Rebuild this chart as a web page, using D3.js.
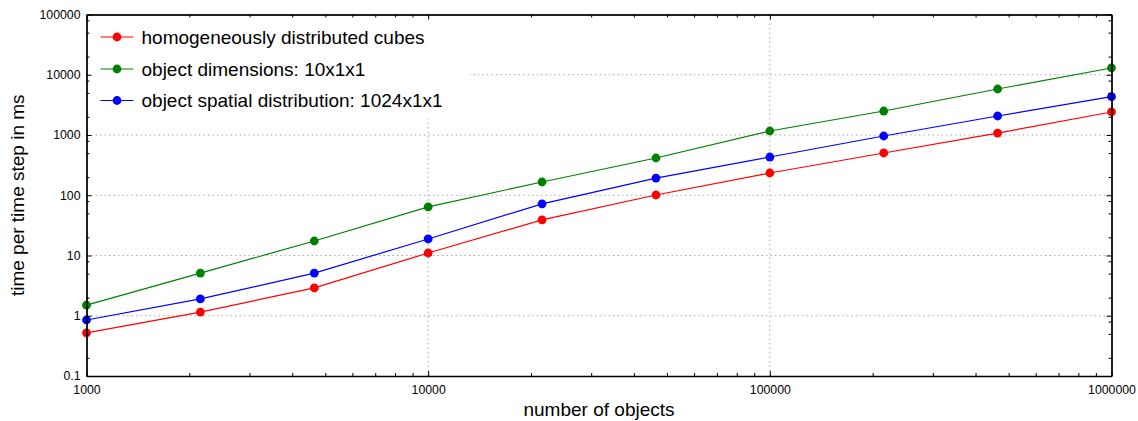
<!DOCTYPE html>
<html>
<head>
<meta charset="utf-8">
<script src="https://cdn.jsdelivr.net/npm/d3@7"></script>
<style>
  body { margin: 0; background: #fff; }
  svg { font-family: "Liberation Sans", Arial, sans-serif; }
  .axis path, .axis line { stroke: #000; }
  .axis text { font-size: 12.3px; fill: #000; }
  .grid line { stroke: #aaa; stroke-dasharray: 1.5,3; }
</style>
</head>
<body>
<script>
/*data*/
var objectCounts = [1000, 2154, 4642, 10000, 21544, 46416, 100000, 215443, 464159, 1000000];
var seriesNames = ["homogeneously distributed cubes", "object dimensions: 10x1x1", "object spatial distribution: 1024x1x1"];
var seriesColors = ["#ff0000", "#008000", "#0000ff"];
var homogeneousTimes = [0.52, 1.15, 2.9, 11, 39, 101, 234, 503, 1076, 2410];
var dimensionTimes = [1.5, 5.1, 17.4, 64, 166, 415, 1165, 2500, 5800, 12950];
var spatialTimes = [0.85, 1.9, 5.1, 18.8, 72, 193, 431, 962, 2066, 4325];
var xTickValues = [1000, 10000, 100000, 1000000];
var yTickValues = [0.1, 1, 10, 100, 1000, 10000, 100000];

var svgWidth = 1138;
var svgHeight = 421;
var margin = {top: 14.5, right: 26.5, bottom: 45, left: 86.5};
var width = svgWidth - margin.left - margin.right;
var height = svgHeight - margin.top - margin.bottom;

var svg = d3.select("body").append("svg")
	.attr("width", svgWidth)
	.attr("height", svgHeight);

var chartGroup = svg.append("g")
	.attr("transform", `translate(${margin.left}, ${margin.top})`);

var xScale = d3.scaleLog().domain([1000, 1000000]).range([0, width]);
var yScale = d3.scaleLog().domain([0.1, 100000]).range([height, 0]);

/*minor ticks: 2..9 on x, 2,5,8 on y*/
var xMinor = [];
xTickValues.slice(0, -1).forEach(function (d) {
	for (var k = 2; k <= 9; k++) xMinor.push(d * k);
});
var yMinor = [];
yTickValues.slice(0, -1).forEach(function (d) {
	[2, 5, 8].forEach(function (k) { yMinor.push(d * k); });
});

/*dotted grid at inner decades*/
chartGroup.append("g").attr("class", "grid")
	.selectAll("line")
	.data(yTickValues.slice(1, -1))
	.enter().append("line")
	.attr("x1", 0).attr("x2", width)
	.attr("y1", d => yScale(d)).attr("y2", d => yScale(d));

chartGroup.append("g").attr("class", "grid")
	.selectAll("line")
	.data(xTickValues.slice(1, -1))
	.enter().append("line")
	.attr("y1", 0).attr("y2", height)
	.attr("x1", d => xScale(d)).attr("x2", d => xScale(d));

/*legend background hides the grid behind it*/
chartGroup.append("rect")
	.attr("x", 1).attr("y", 1)
	.attr("width", 382).attr("height", 103)
	.attr("fill", "#fff");

/*series lines and dots*/
var allSeries = [homogeneousTimes, dimensionTimes, spatialTimes];
var line = d3.line()
	.x((d, i) => xScale(objectCounts[i]))
	.y(d => yScale(d));

allSeries.forEach(function (values, s) {
	chartGroup.append("path")
		.datum(values)
		.attr("fill", "none")
		.attr("stroke", seriesColors[s])
		.attr("stroke-width", 1.2)
		.attr("d", line);
	chartGroup.selectAll(".dot" + s)
		.data(values)
		.enter().append("circle")
		.attr("class", "dot" + s)
		.attr("cx", (d, i) => xScale(objectCounts[i]))
		.attr("cy", d => yScale(d))
		.attr("r", 4.4)
		.attr("fill", seriesColors[s]);
});

/*axes with inward ticks on all four sides*/
function drawAxis(axisFn, scale, major, minor, transform, showLabels) {
	var g = chartGroup.append("g").attr("class", "axis").attr("transform", transform);
	g.call(axisFn(scale).tickValues(minor).tickSizeInner(-3).tickSizeOuter(0).tickFormat(""));
	var g2 = chartGroup.append("g").attr("class", "axis").attr("transform", transform);
	g2.call(axisFn(scale).tickValues(major).tickSizeInner(-5).tickSizeOuter(0)
		.tickPadding(showLabels ? 7 : 0)
		.tickFormat(showLabels ? d3.format("") : ""));
	g2.select(".domain").attr("stroke-width", 1.5);
	return g2;
}

var bottom = drawAxis(d3.axisBottom, xScale, xTickValues, xMinor, `translate(0, ${height})`, true);
bottom.selectAll("text").attr("dy", "0.9em");
drawAxis(d3.axisTop, xScale, xTickValues, xMinor, "translate(0, 0)", false);
var left = drawAxis(d3.axisLeft, yScale, yTickValues, yMinor, "translate(0, 0)", true);
left.selectAll("text").attr("x", -6);
drawAxis(d3.axisRight, yScale, yTickValues, yMinor, `translate(${width}, 0)`, false);

/*axis titles*/
chartGroup.append("text")
	.attr("x", width / 2)
	.attr("y", height + 40)
	.attr("text-anchor", "middle")
	.style("font-size", "19px")
	.text("number of objects");

chartGroup.append("text")
	.attr("transform", "rotate(-90)")
	.attr("x", -height / 2)
	.attr("y", -63)
	.attr("text-anchor", "middle")
	.style("font-size", "19px")
	.text("time per time step in ms");

/*legend*/
var legendRows = [22.5, 54.5, 86];
seriesNames.forEach(function (name, s) {
	var row = chartGroup.append("g")
		.attr("transform", `translate(0, ${legendRows[s]})`);
	row.append("line")
		.attr("x1", 14).attr("x2", 47)
		.attr("stroke", seriesColors[s])
		.attr("stroke-width", 1.2);
	row.append("circle")
		.attr("cx", 30.5).attr("r", 4.4)
		.attr("fill", seriesColors[s]);
	row.append("text")
		.attr("x", 55)
		.attr("dy", "0.35em")
		.style("font-size", "19px")
		.text(name);
});
</script>
</body>
</html>
